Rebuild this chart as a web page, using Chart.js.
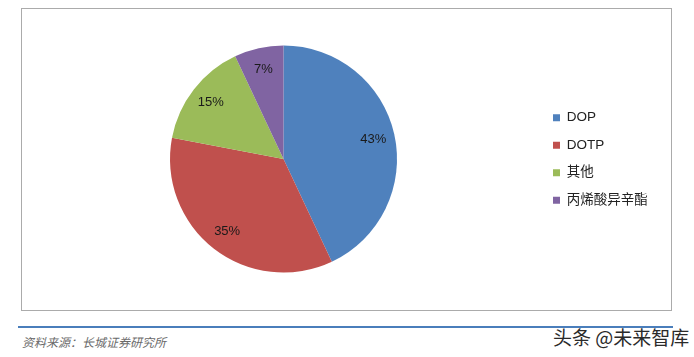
<!DOCTYPE html>
<html>

<head>
  <meta charset="utf-8">
  <title>增塑剂结构</title>
  <style>
    body {
      margin: 0;
      background-color: #FFF;
      font-family: "Liberation Sans", "Noto Sans CJK SC", sans-serif;
    }

    .page {
      position: relative;
      width: 694px;
      height: 357px;
      overflow: hidden;
    }

    .frame {
      position: absolute;
      left: 21px;
      top: 8px;
      width: 649px;
      height: 301px;
      border: 1px solid #ABABAB;
    }

    .rule {
      position: absolute;
      left: 18px;
      top: 326px;
      width: 655px;
      height: 2px;
      background-color: #4A7EBB;
    }

    .source {
      position: absolute;
      left: 22px;
      top: 333px;
      font-family: "Noto Sans CJK SC", sans-serif;
      font-style: italic;
      font-size: 12px;
      color: #6A6A6A;
    }

    .mark {
      position: absolute;
      left: 553px;
      top: 323px;
      font-family: "Noto Sans CJK SC", sans-serif;
      font-size: 19px;
      color: #2A2A2A;
      white-space: nowrap;
    }
  </style>
</head>

<body>
  <div class="page">
    <div class="frame">
      <canvas id="pieChart" width="649" height="301"></canvas>
    </div>
    <div class="rule"></div>
    <div class="source">资料来源：长城证券研究所</div>
    <div class="mark">头条 @未来智库</div>
  </div>

  <script src="https://cdn.jsdelivr.net/npm/chart.js"></script>

  <script>
    // Data
    const categories = ['DOP', 'DOTP', '其他', '丙烯酸异辛酯'];
    const shares = [43, 35, 15, 7];
    const colors = ['#4F81BD', '#C0504D', '#9BBB59', '#8064A2'];

    const legendFont = { family: '"Liberation Sans", "Noto Sans CJK SC", sans-serif', size: 13.5 };
    const legendPad = 14;
    const boxSize = 7;

    // measure the widest legend label so the legend lands where it should
    const probe = document.createElement('canvas').getContext('2d');
    probe.font = legendFont.size + 'px ' + legendFont.family;
    let textW = 0;
    categories.forEach(c => { textW = Math.max(textW, probe.measureText(c).width); });
    const itemW = boxSize + legendFont.size / 2 + textW;
    const W = 649;
    const boxX = 531;
    const padRight = W - boxX - itemW - 10;
    const padLeft = 2 * 261.5 - (boxX - legendPad);

    // percentage labels inside the slices
    const sliceLabels = {
      id: 'sliceLabels',
      afterDatasetsDraw(chart) {
        const ctx = chart.ctx;
        const meta = chart.getDatasetMeta(0);
        ctx.save();
        ctx.font = '13px "Liberation Sans", sans-serif';
        ctx.fillStyle = '#1A1A1A';
        ctx.textAlign = 'center';
        ctx.textBaseline = 'middle';
        meta.data.forEach((arc, i) => {
          const p = arc.getProps(['x', 'y', 'startAngle', 'endAngle', 'outerRadius'], true);
          const mid = (p.startAngle + p.endAngle) / 2;
          const r = p.outerRadius * 0.81;
          ctx.fillText(shares[i] + '%', p.x + Math.cos(mid) * r, p.y + Math.sin(mid) * r);
        });
        ctx.restore();
      }
    };

    const ctx = document.getElementById('pieChart').getContext('2d');
    const pieChart = new Chart(ctx, {
      type: 'pie',
      data: {
        labels: categories,
        datasets: [{
          data: shares,
          backgroundColor: colors,
          borderWidth: 0,
          hoverOffset: 0
        }]
      },
      options: {
        responsive: false,
        animation: false,
        radius: 113.5,
        layout: {
          padding: { left: padLeft, right: padRight, top: 30, bottom: 31 }
        },
        plugins: {
          legend: {
            position: 'right',
            labels: {
              boxWidth: boxSize,
              boxHeight: boxSize,
              padding: legendPad,
              color: '#222',
              font: legendFont
            }
          },
          tooltip: { enabled: false }
        }
      },
      plugins: [sliceLabels]
    });
  </script>
</body>

</html>
